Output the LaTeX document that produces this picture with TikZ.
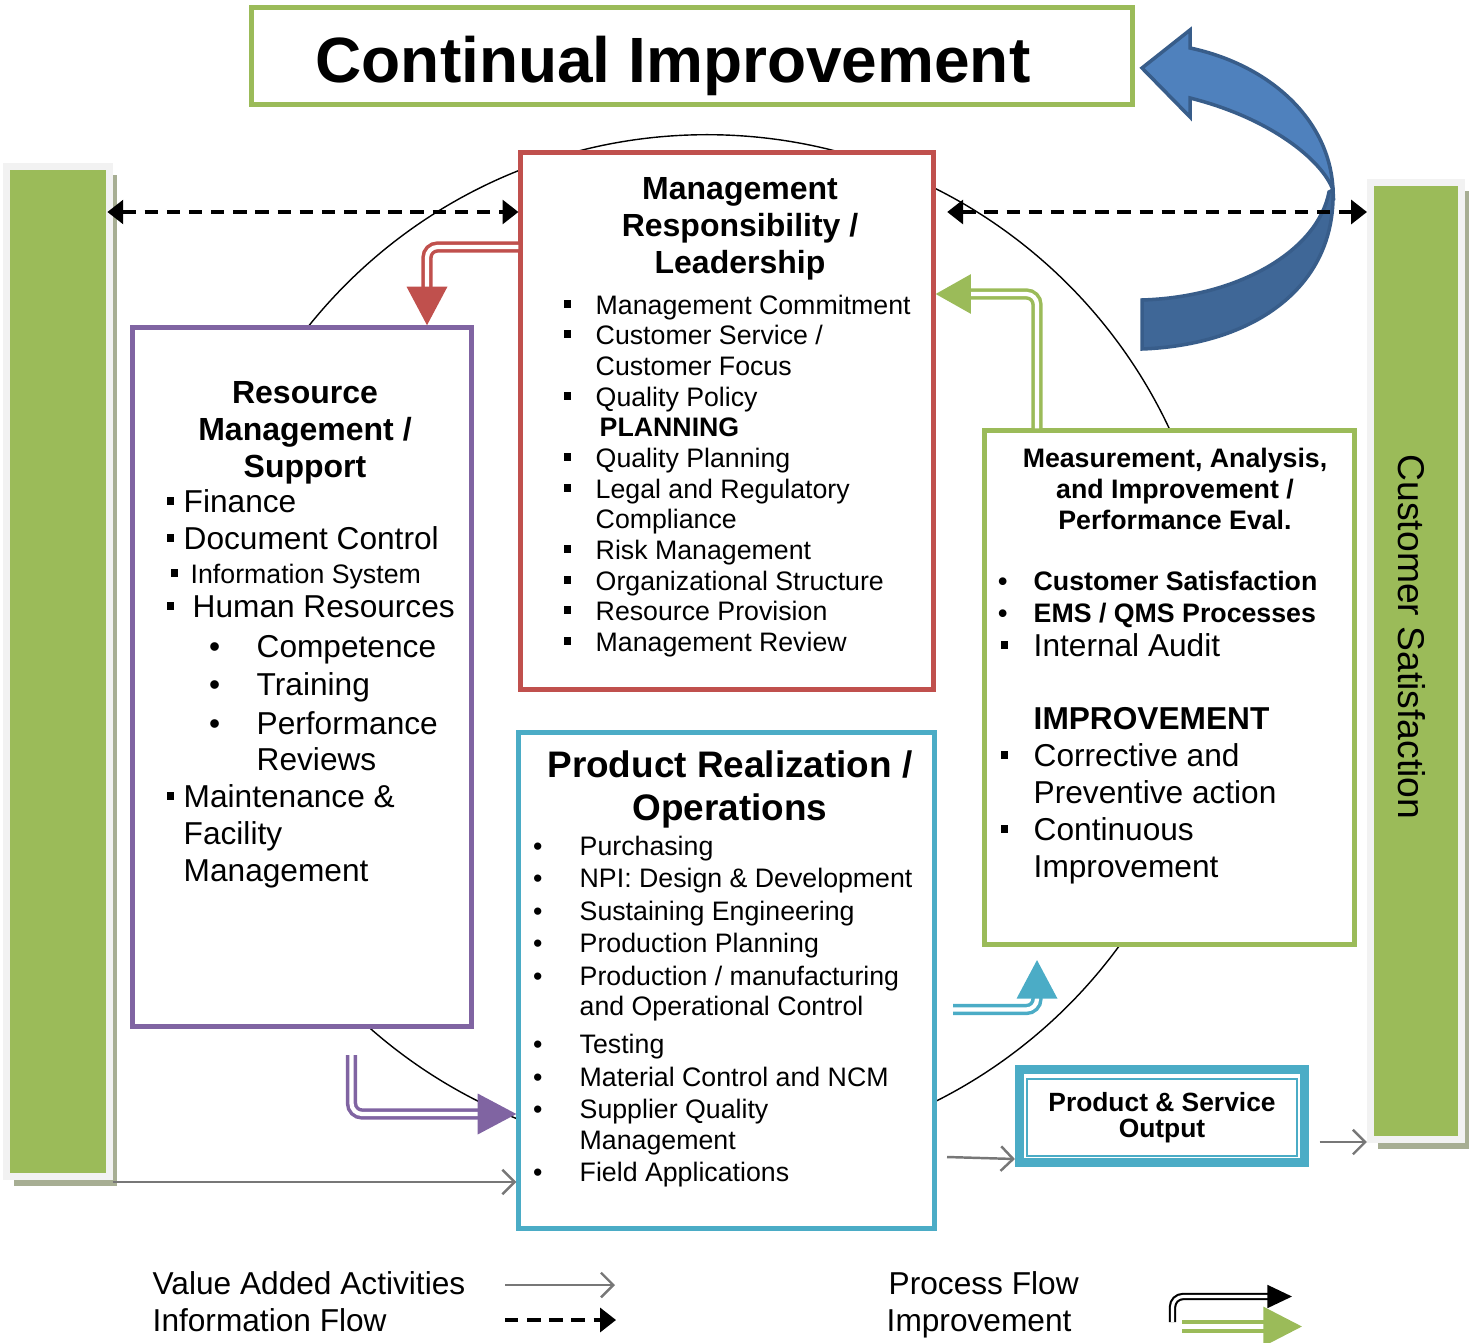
\documentclass[tikz,border=0pt]{standalone}
\usepackage{fontspec}
\setmainfont{Liberation Sans}
\usetikzlibrary{arrows.meta,shadows}
\definecolor{grn}{HTML}{9BBB59}
\definecolor{rd}{HTML}{C0504D}
\definecolor{pur}{HTML}{8064A2}
\definecolor{cyn}{HTML}{4BACC6}
\definecolor{blu}{HTML}{4F81BD}
\definecolor{dblu}{HTML}{3F6797}
\definecolor{bord}{HTML}{385D8A}
\definecolor{frm}{HTML}{F2F2F2}
\definecolor{shd}{HTML}{A7AE93}
\definecolor{gry}{HTML}{777777}
\newcommand\blt[2]{\llap{\makebox[#1]{#2}}}
\newcommand\sqr{\raisebox{0.24em}{\rule{2.1pt}{2.1pt}}}
\tikzset{tri/.tip={Triangle[length=4.5pt, width=6.8pt]}}

\begin{document}
\begin{tikzpicture}[x=0.01cm, y=-0.01cm,
  box/.style={draw=#1, line width=1.42pt, fill=white, inner sep=0pt},
  bar/.style={draw=frm, line width=2pt, fill=grn, drop shadow={opacity=1, fill=shd, shadow xshift=2.2pt, shadow yshift=-2.5pt}},
  sm/.style={anchor=mid west, inner sep=0pt, font=\fontsize{7.6}{8.7}\selectfont},
  md/.style={anchor=mid west, inner sep=0pt, font=\fontsize{9}{10.5}\selectfont},
  hd/.style={align=center, inner sep=0pt, font=\bfseries\fontsize{9.1}{10.53}\selectfont},
  val/.style={draw=gry, line width=0.7pt, -{Straight Barb[length=3.5pt, width=7pt]}},
  info/.style={line width=0.9pt, dash pattern=on 3.8pt off 2.5pt},
  flow/.style={draw=#1, double=white, line width=1pt, double distance=1.2pt, rounded corners=3pt, -{Triangle[length=11pt, width=11.4pt]}}
]
\useasboundingbox (0,0) rectangle (1473,1343);

\draw (707,645) circle [radius=5.1cm];

\node[bar, minimum width=1.03cm, minimum height=10.1cm] (lbar) at (58,671.5) {};
\node[bar, minimum width=0.91cm, minimum height=9.57cm] (rbar) at (1416,661) {};
\node[rotate=-90, font=\fontsize{10.6}{12}\selectfont] (cs) at (1412,637) {Customer Satisfaction};

\node[draw=grn, line width=1.42pt, minimum width=8.8cm, minimum height=0.96cm, inner sep=0pt] (tbox) at (692,56) {};
\node[font=\bfseries\fontsize{18.2}{20}\selectfont] (ttl) at (673,66) {Continual Improvement};

\fill[dblu, draw=bord, line width=1pt] (1333,190) .. controls (1336,290) and (1250,345) .. (1142,349) -- (1142,300) .. controls (1240,297) and (1318,250) .. (1329,192) -- cycle;
\fill[blu, draw=bord, line width=1pt] (1142,68) -- (1190,30) -- (1190,48) .. controls (1270,65) and (1330,120) .. (1333,190) .. controls (1322,160) and (1270,118) .. (1190,98) -- (1190,117) -- cycle;

\node[box=rd, minimum width=4.12cm, minimum height=5.36cm] (mgmt) at (727,421) {};
\node[hd] (mgt) at (740,229) {Management\\Responsibility /\\Leadership};
\node[sm] (m1) at (595,305) {\blt{15.9pt}{\sqr}Management Commitment};
\node[sm] (m2) at (595,335) {\blt{15.9pt}{\sqr}Customer Service /};
\node[sm] (m3) at (595,366) {Customer Focus};
\node[sm] (m4) at (595,397) {\blt{15.9pt}{\sqr}Quality Policy};
\node[sm, font=\bfseries\fontsize{7.6}{8.7}\selectfont] (m5) at (599,427) {PLANNING};
\node[sm] (m6) at (595,458) {\blt{15.9pt}{\sqr}Quality Planning};
\node[sm] (m7) at (595,489) {\blt{15.9pt}{\sqr}Legal and Regulatory};
\node[sm] (m8) at (595,519) {Compliance};
\node[sm] (m9) at (595,550) {\blt{15.9pt}{\sqr}Risk Management};
\node[sm] (m10) at (595,581) {\blt{15.9pt}{\sqr}Organizational Structure};
\node[sm] (m11) at (595,611) {\blt{15.9pt}{\sqr}Resource Provision};
\node[sm] (m12) at (595,642) {\blt{15.9pt}{\sqr}Management Review};

\node[box=pur, minimum width=3.38cm, minimum height=6.98cm] (res) at (302,677) {};
\node[hd] (rst) at (305,433) {Resource\\Management /\\Support};
\node[md] (r1) at (183,503) {\blt{7.4pt}{\sqr}Finance};
\node[md] (r2) at (183,540) {\blt{7.4pt}{\sqr}Document Control};
\node[sm] (r3) at (190,574) {\blt{9.1pt}{\sqr}Information System};
\node[md] (r4) at (192,608) {\blt{12.5pt}{\sqr}Human Resources};
\node[md] (r5) at (256,648) {\blt{23.9pt}{\textbullet}Competence};
\node[md] (r6) at (256,686) {\blt{23.9pt}{\textbullet}Training};
\node[md] (r7) at (256,725) {\blt{23.9pt}{\textbullet}Performance};
\node[md] (r8) at (256,761) {Reviews};
\node[md] (r9) at (183,798) {\blt{7.4pt}{\sqr}Maintenance \&};
\node[md] (r10) at (183,835) {Facility};
\node[md] (r11) at (183,872) {Management};

\node[box=cyn, minimum width=4.15cm, minimum height=4.95cm] (prod) at (726.5,980.5) {};
\node[hd, font=\bfseries\fontsize{10.5}{12.2}\selectfont] (prt) at (730,789) {Product Realization /\\Operations};
\node[sm] (p1) at (579,846) {\blt{23.9pt}{\textbullet}Purchasing};
\node[sm] (p2) at (579,878) {\blt{23.9pt}{\textbullet}NPI: Design \& Development};
\node[sm] (p3) at (579,911) {\blt{23.9pt}{\textbullet}Sustaining Engineering};
\node[sm] (p4) at (579,943) {\blt{23.9pt}{\textbullet}Production Planning};
\node[sm] (p5) at (579,976) {\blt{23.9pt}{\textbullet}Production / manufacturing};
\node[sm] (p6) at (579,1006) {and Operational Control};
\node[sm] (p7) at (579,1044) {\blt{23.9pt}{\textbullet}Testing};
\node[sm] (p8) at (579,1077) {\blt{23.9pt}{\textbullet}Material Control and NCM};
\node[sm] (p9) at (579,1109) {\blt{23.9pt}{\textbullet}Supplier Quality};
\node[sm] (p10) at (579,1140) {Management};
\node[sm] (p11) at (579,1172) {\blt{23.9pt}{\textbullet}Field Applications};

\node[box=grn, minimum width=3.69cm, minimum height=5.13cm] (meas) at (1169.5,687.5) {};
\node[hd, font=\bfseries\fontsize{7.6}{8.8}\selectfont] (mst) at (1175,489) {Measurement, Analysis,\\and Improvement /\\Performance Eval.};
\node[sm, font=\bfseries\fontsize{7.6}{8.7}\selectfont] (e1) at (1033,581) {\blt{17.6pt}{\textbullet}Customer Satisfaction};
\node[sm, font=\bfseries\fontsize{7.6}{8.7}\selectfont] (e2) at (1033,613) {\blt{17.6pt}{\textbullet}EMS / QMS Processes};
\node[md] (e3) at (1033,647) {\blt{16.5pt}{\sqr}Internal Audit};
\node[md, font=\bfseries\fontsize{9}{10.5}\selectfont] (e4) at (1033,720) {IMPROVEMENT};
\node[md] (e5) at (1033,757) {\blt{16.5pt}{\sqr}Corrective and};
\node[md] (e6) at (1033,794) {Preventive action};
\node[md] (e7) at (1033,831) {\blt{16.5pt}{\sqr}Continuous};
\node[md] (e8) at (1033,868) {Improvement};

\node[draw=cyn, line width=2.56pt, minimum width=2.85cm, minimum height=0.93cm, inner sep=0pt] (out) at (1162,1116) {};
\node[draw=cyn, line width=0.57pt, minimum width=2.70cm, minimum height=0.775cm, align=center, inner sep=0pt, font=\bfseries\fontsize{7.5}{7.5}\selectfont] (outin) at (1162,1117.5) {Product \& Service\\Output};

\draw[info, tri-tri, shorten <=-1.6pt] (lbar.east |- 0,212) -- (mgmt.west |- 0,212);
\draw[info, tri-tri, shorten <=3.3pt] (mgmt.east |- 0,212) -- (rbar.west |- 0,212);

\draw[flow=rd] (mgmt.west |- 0,247) -- (427,247) -- (res.north -| 427,0);
\draw[flow=grn, -{Triangle[length=10pt, width=11pt]}] (meas.north -| 1037,0) -- (1037,294) -- (mgmt.east |- 0,294);
\coordinate (ps) at (351.5,1055);
\draw[flow=pur] (ps) -- (351.5,1114) -- (prod.west |- 0,1114);
\coordinate (cs0) at (953,1009.5);
\coordinate (ce) at (1037,960);
\draw[flow=cyn] (cs0) -- (1037,1009.5) -- (ce);

\draw[val] (lbar.east |- 0,1182) -- (prod.west |- 0,1182);
\coordinate (os) at (947,1157);
\draw[val] (os) -- (out.west |- 0,1159);
\draw[val, shorten <=3pt] (out.east |- 0,1142) -- (rbar.west |- 0,1142);

\node[md] (l1) at (152,1285) {Value Added Activities};
\node[md] (l2) at (152,1322) {Information Flow};
\node[md] (l3) at (888,1285) {Process Flow};
\node[md] (l4) at (886,1322) {Improvement};
\coordinate (la) at (505,1285);
\coordinate (lb) at (615,1285);
\draw[val] (la) -- (lb);
\coordinate (lc) at (505,1320);
\coordinate (ld) at (616,1320);
\draw[info, -tri] (lc) -- (ld);
\coordinate (k1) at (1172.5,1322);
\coordinate (k2) at (1292,1296.5);
\draw[flow=black, line width=0.6pt, double distance=0.9pt, -{Triangle[length=7pt, width=6.5pt]}] (k1) -- (1172.5,1296.5) -- (k2);
\coordinate (g1) at (1182,1326.5);
\coordinate (g2) at (1302,1326.5);
\draw[flow=grn, line width=1.2pt, double distance=1.3pt, -{Triangle[length=11pt, width=11pt]}] (g1) -- (g2);
\end{tikzpicture}
\end{document}
